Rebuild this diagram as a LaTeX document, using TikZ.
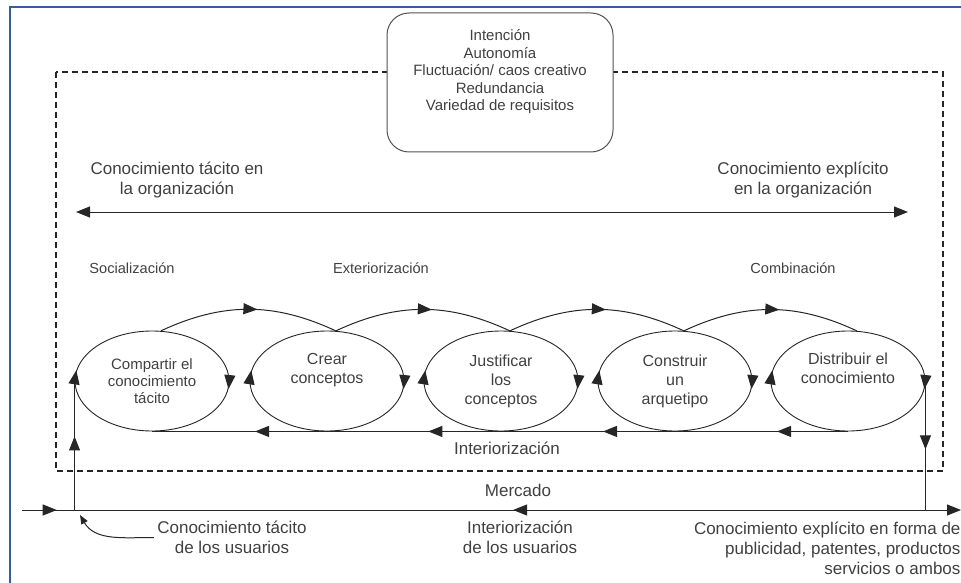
\documentclass[tikz,border=0pt]{standalone}
\usepackage{fontspec}
\setmainfont{Liberation Sans}
\usetikzlibrary{arrows.meta,shapes.geometric,decorations.markings}
\definecolor{marco}{rgb}{0.22, 0.36, 0.62}
\definecolor{tinta}{rgb}{0.25, 0.25, 0.25}
\definecolor{linea}{rgb}{0.15, 0.15, 0.15}

\tikzset{medio/.style={postaction={decorate},
    decoration={markings, mark=at position #1 with {\arrow{>}}}}}

\begin{document}
\begin{tikzpicture}[x=1pt, y=-1pt, >={Triangle[length=14pt, width=11pt]}]
    \tikzstyle{etapa} = [ellipse, draw=linea, line width=0.9pt, minimum width=154pt, minimum height=100pt, inner sep=0pt, align=center, text=tinta, font=\fontsize{16}{19}\selectfont]
    \tikzstyle{texto} = [align=center, text=tinta, font=\fontsize{17}{20}\selectfont]
    \tikzstyle{modo} = [text=tinta, font=\fontsize{14.6}{17}\selectfont]
    \tikzstyle{flecha} = [draw=linea, fill=black, line width=1pt]
    \tikzstyle{punta} = [draw=linea, fill=black, line width=1pt, ->]
    \tikzstyle{marcodash} = [draw=linea, line width=1.3pt, dash pattern=on 6pt off 4pt]

    \useasboundingbox (0,0) rectangle (961,583);
    \draw[marco, line width=2.5pt] (10,600) -- (10,7) -- (980,7);

    % organizacion
    \draw[marcodash] (56,72) rectangle (943,471);
    \node[draw=linea!80, line width=1pt, rounded corners=22pt, fill=white, minimum width=226pt, minimum height=139pt, align=center, text=tinta, font=\fontsize{15}{17.5}\selectfont] (valores) at (500,82.5)
        {Intención\\Autonomía\\Fluctuación/ caos creativo\\Redundancia\\Variedad de requisitos\\[7pt]~};

    \node[texto] (tacorg) at (177,180) {Conocimiento tácito en\\la organización};
    \node[texto] (exporg) at (803,180) {Conocimiento explícito\\en la organización};
    \coordinate (orgizq) at (76,212);
    \coordinate (orgder) at (908,212);
    \draw[flecha, <->] (orgizq) -- (orgder);

    \node[modo] (social) at (132,268) {Socialización};
    \node[modo] (exter) at (381,268) {Exteriorización};
    \node[modo] (combi) at (793,268) {Combinación};

    % las cinco fases
    \node[etapa, font=\fontsize{15}{17}\selectfont] (compartir) at (152,381) {Compartir el\\conocimiento\\tácito};
    \node[etapa] (crear) at (327,381) {Crear\\conceptos\\[6pt]~};
    \node[etapa] (justificar) at (501,381) {Justificar\\los\\conceptos};
    \node[etapa] (construir) at (675,381) {Construir\\un\\arquetipo};
    \node[etapa] (distribuir) at (848,381) {Distribuir el\\conocimiento\\[6pt]~};

    \draw[flecha, fill=none, medio=0.55] (compartir.80) to[bend left=25] (crear.80);
    \draw[flecha, fill=none, medio=0.55] (crear.80) to[bend left=25] (justificar.80);
    \draw[flecha, fill=none, medio=0.55] (justificar.80) to[bend left=25] (construir.80);
    \draw[flecha, fill=none, medio=0.55] (construir.80) to[bend left=25] (distribuir.80);

    % puntas sobre las elipses
    \draw[punta] (compartir.1) -- (compartir.-6);
    \draw[punta] (crear.1) -- (crear.-6);
    \draw[punta] (justificar.1) -- (justificar.-6);
    \draw[punta] (construir.1) -- (construir.-6);
    \draw[punta] (distribuir.1) -- (distribuir.-6);
    \draw[punta] (compartir.180) -- (compartir.172);
    \draw[punta] (crear.180) -- (crear.172);
    \draw[punta] (justificar.180) -- (justificar.172);
    \draw[punta] (construir.180) -- (construir.172);
    \draw[punta] (distribuir.180) -- (distribuir.172);

    \draw[flecha, postaction={decorate}, decoration={markings,
        mark=at position 0.102 with {\arrow{>}}, mark=at position 0.352 with {\arrow{>}},
        mark=at position 0.603 with {\arrow{>}}, mark=at position 0.852 with {\arrow{>}}}]
        (distribuir.south) -- (compartir.south);
    \node[texto] (interior) at (507,448) {Interiorización};

    % mercado
    \node[texto] (mercado) at (518,490) {Mercado};
    \coordinate (mizq) at (22,510);
    \coordinate (mder) at (961,510);
    \coordinate (entrada) at (compartir.west |- mizq);
    \coordinate (salida) at (distribuir.east |- mizq);
    \draw[flecha, ->, postaction={decorate}, decoration={markings,
        mark=at position 0.037 with {\arrow{>}}, mark=at position 0.523 with {\arrowreversed{>}}}]
        (mizq) -- (mder);
    \draw[flecha, medio=0.57] (entrada) -- (compartir.west);
    \draw[flecha, medio=0.53] (distribuir.east) -- (salida);

    \node[texto, font=\fontsize{17}{19.5}\selectfont] (tacusu) at (232,537.5) {Conocimiento tácito\\de los usuarios};
    \node[texto, font=\fontsize{17}{19.5}\selectfont] (intusu) at (520,537.5) {Interiorización\\de los usuarios};
    \node[texto, align=right, anchor=north east, font=\fontsize{17}{20}\selectfont] (expusu) at (964,518)
        {Conocimiento explícito en forma de\\publicidad, patentes, productos\\servicios o ambos};
    \coordinate (pie) at (80,515);
    \draw[flecha, fill=none, -{Triangle[length=9pt, width=7pt]}] (tacusu.west) to[out=180, in=-60] (pie);
\end{tikzpicture}
\end{document}
